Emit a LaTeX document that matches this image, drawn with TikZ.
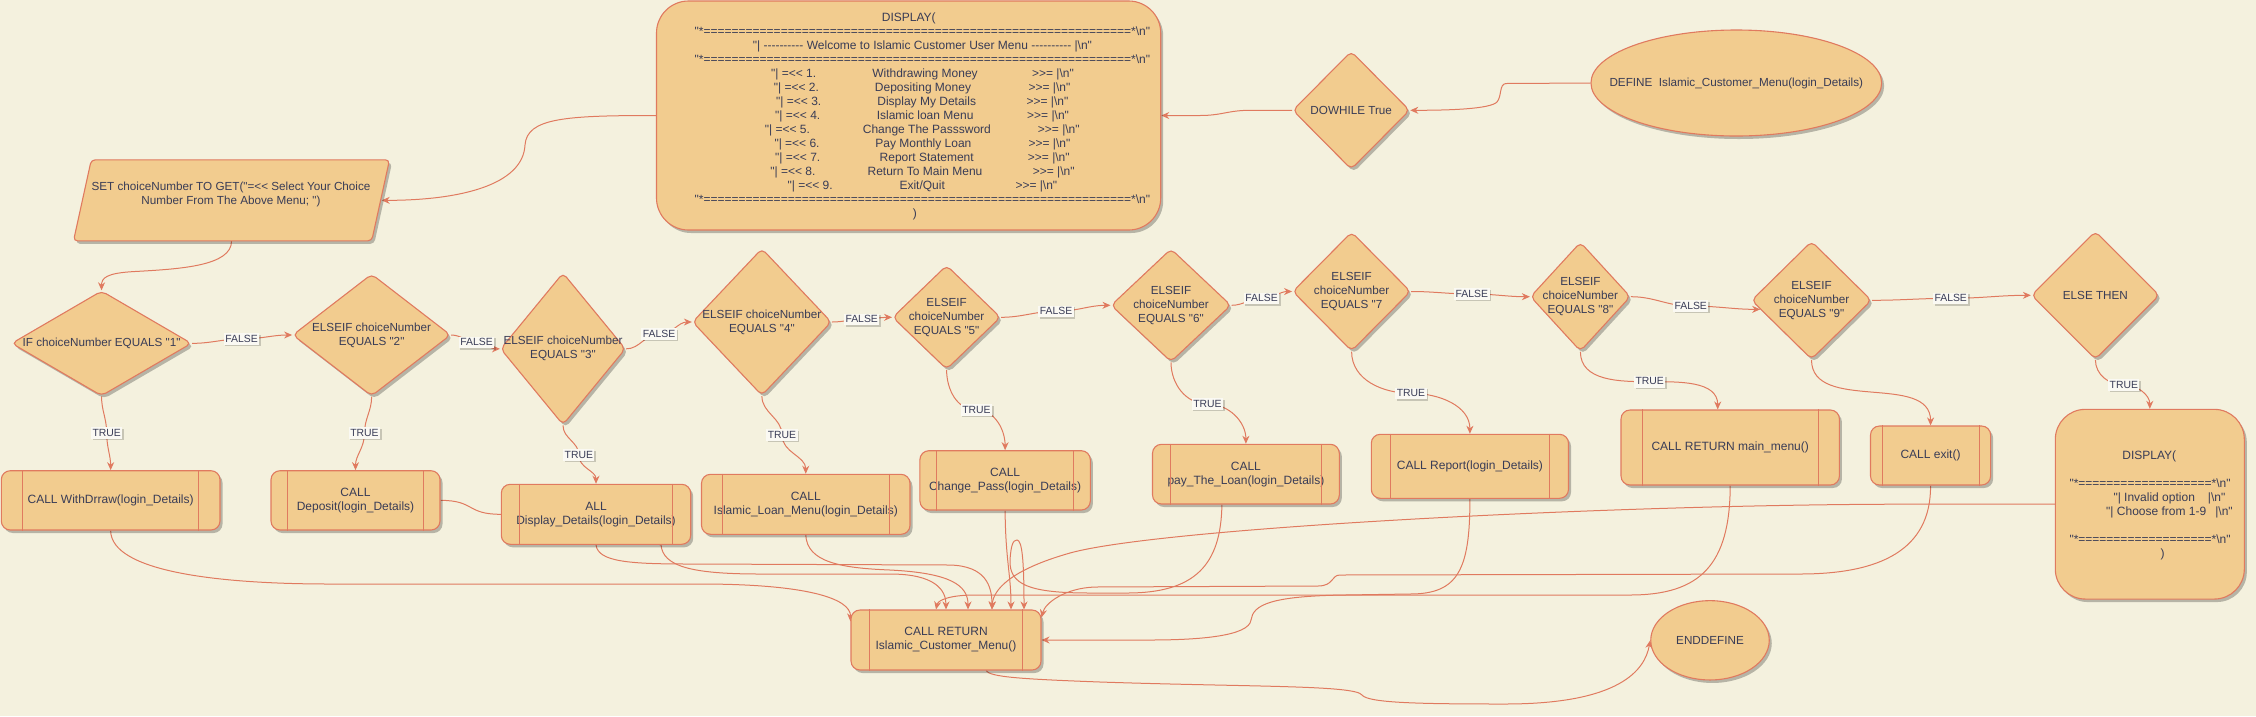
\documentclass[tikz,border=0pt]{standalone}
\usepackage{fontspec}
\setmainfont{Liberation Sans}[Ligatures=TeXOff]
\usetikzlibrary{shapes.geometric,arrows.meta,shadows,calc}
\definecolor{canvasc}{HTML}{F4F1DE}
\definecolor{fillc}{HTML}{F2CC8F}
\definecolor{strokec}{HTML}{E07A5F}
\definecolor{txtc}{HTML}{393C56}
\definecolor{labbg}{HTML}{FAF9F3}
\pgfdeclarelayer{canvaslayer}
\pgfdeclarelayer{edgelayer}
\pgfsetlayers{canvaslayer,edgelayer,main}
\newcommand\mybn{\textbackslash n}
\newcommand\myeq[1]{\foreach\myi in {1,...,#1}{=}}
\newcommand\bigfs{\fontsize{12}{14}\selectfont}
\newcommand\diafs{\fontsize{11.7}{14}\selectfont}
\newcommand\labfs{\fontsize{10.4}{12}\selectfont}
\begin{document}
\begin{tikzpicture}[x=1pt,y=-1pt,
 every node/.append style={text=txtc, font=\bigfs},
 shp/.style={draw=strokec, fill=fillc, line width=1.1pt, drop shadow={shadow xshift=2.5pt, shadow yshift=-3pt, opacity=0.25, fill=black}},
 dia/.style={shp, diamond, rounded corners=5pt, inner sep=0pt},
 proc/.style={shp, rectangle, rounded corners=9pt, align=center, inner sep=2pt},
 ell/.style={shp, ellipse, inner sep=0pt},
 conn/.style={draw=strokec, line width=1pt},
 conna/.style={conn, -{Stealth[length=8pt,width=7pt]}},
 lab/.style={fill=labbg, font=\labfs, text height=7.6pt, text depth=1.4pt, inner xsep=1.5pt, inner ysep=1.3pt, drop shadow={shadow xshift=1.5pt, shadow yshift=-1.5pt, opacity=0.18, fill=black}},
 tl/.style={anchor=base, inner sep=0pt},
 dl/.style={font=\diafs, align=center}
]
\begin{pgfonlayer}{canvaslayer}
\fill[canvasc] (0,0) rectangle (2256,716);
\end{pgfonlayer}
\useasboundingbox (0,0) rectangle (2256,716);

% ---------- top row ----------
\node[ell, minimum width=290.7pt, minimum height=106pt, label={[dl]center:{DEFINE\ \ Islamic\_Customer\_Menu(login\_Details)}}] (def) at (1736.3,83) {};
\node[dia, minimum width=117pt, minimum height=118pt, label={[dl]center:{DOWHILE True}}] (dw) at (1351.2,110.3) {};
\node[shp, rectangle, rounded corners=32pt, minimum width=504.2pt, minimum height=229pt] (dsp) at (908.6,115.5) {};

\node[tl] (dt0) at (908.8,21.5) {DISPLAY(};
\node[tl] (dt1) at (922.4,35.5) {"*\myeq{61}*\mybn"};
\node[tl] (dt2) at (922.4,49.5) {"| ---------- Welcome to Islamic Customer User Menu ---------- |\mybn"};
\node[tl] (dt3) at (922.4,63.5) {"*\myeq{61}*\mybn"};
\foreach \mi/\mt/\ma/\mb/\mc [count=\k from 0] in {
 1/{Withdrawing Money}/770.9/925.0/1031.9,
 2/{Depositing Money}/773.6/923.0/1028.4,
 3/{Display My Details}/776.0/926.7/1026.4,
 4/{Islamic loan Menu}/775.0/925.1/1027.0,
 5/{Change The Passsword}/764.7/926.9/1037.7,
 6/{Pay Monthly Loan}/774.3/923.4/1028.4,
 7/{Report Statement}/775.0/926.7/1027.7,
 8/{Return To Main Menu}/770.2/925.0/1032.6,
 9/{Exit/Quit}/787.4/922.2/1015.3}{
 \pgfmathsetmacro\yy{77.5+14*\k}
 \node[tl, anchor=base west] (ml\mi) at (\ma,\yy) {"| =<< \mi.};
 \node[tl] (mc\mi) at (\mb,\yy) {\mt};
 \node[tl, anchor=base west] (mr\mi) at (\mc,\yy) {>>= |\mybn"};
}
\node[tl] (dt13) at (922.4,203.5) {"*\myeq{61}*\mybn"};
\node[tl] (dt14) at (914.8,217.5) {)};

% ---------- SET ----------
\node[minimum width=315.6pt, minimum height=80.7pt, inner sep=0pt] (setb) at (231.5,200.35) {};
\filldraw[shp, rounded corners=4pt] ([xshift=17.8pt]setb.north west) -- (setb.north east) -- ([xshift=-17.8pt]setb.south east) -- (setb.south west) -- cycle;
\node[dl] (sett) at (231,194) {SET choiceNumber TO GET("=<< Select Your Choice\\Number From The Above Menu; ")};

% ---------- decisions ----------
\node[dia, minimum width=180pt, minimum height=105pt, label={[dl]center:{IF choiceNumber EQUALS "1"}}] (c1) at (101.55,343.35) {};
\node[dia, minimum width=158pt, minimum height=122pt, label={[dl]center:{ELSEIF choiceNumber\\EQUALS "2"}}] (c2) at (371.65,335) {};
\node[dia, minimum width=125pt, minimum height=152pt, label={[dl]center:{ELSEIF choiceNumber\\EQUALS "3"}}] (c3) at (563,348.85) {};
\node[dia, minimum width=139pt, minimum height=147pt, label={[dl]center:{ELSEIF choiceNumber\\EQUALS "4"}}] (c4) at (761.9,322) {};
\node[dia, minimum width=108pt, minimum height=104pt, label={[dl]center:{ELSEIF\\choiceNumber\\EQUALS "5"}}] (c5) at (946.6,317.3) {};
\node[dia, minimum width=120pt, minimum height=113pt, label={[dl]center:{ELSEIF\\choiceNumber\\EQUALS "6"}}] (c6) at (1171,305.3) {};
\node[dia, minimum width=118pt, minimum height=119pt, label={[dl]center:{ELSEIF\\choiceNumber\\EQUALS "7}}] (c7) at (1351.6,291.5) {};
\node[dia, minimum width=100pt, minimum height=109pt, label={[dl]center:{ELSEIF\\choiceNumber\\EQUALS "8"}}] (c8) at (1580.4,296.7) {};
\node[dia, minimum width=120pt, minimum height=118pt, label={[dl]center:{ELSEIF\\choiceNumber\\EQUALS "9"}}] (c9) at (1811.5,300.3) {};
\node[dia, minimum width=128pt, minimum height=128pt, label={[dl]center:{ELSE THEN}}] (cels) at (2095.4,295.3) {};

% ---------- process boxes ----------
\node[proc, minimum width=218.7pt, minimum height=59.3pt] (wd) at (110.65,500.35) {CALL WithDrraw(login\_Details)};
\node[proc, minimum width=169pt, minimum height=59.3pt] (dep) at (355.5,500.35) {CALL\\Deposit(login\_Details)};
\node[proc, minimum width=189.4pt, minimum height=60pt] (dsd) at (596,514.3) {ALL\\Display\_Details(login\_Details)};
\node[proc, minimum width=208.5pt, minimum height=60pt] (loan) at (805.75,504.3) {CALL\\Islamic\_Loan\_Menu(login\_Details)};
\node[proc, minimum width=170.4pt, minimum height=59.3pt] (chg) at (1005.1,480.35) {CALL\\Change\_Pass(login\_Details)};
\node[proc, minimum width=186.8pt, minimum height=59.7pt] (pay) at (1245.9,474.15) {CALL\\pay\_The\_Loan(login\_Details)};
\node[proc, minimum width=197.2pt, minimum height=64pt] (rep) at (1469.9,466.3) {CALL Report(login\_Details)};
\node[proc, minimum width=218.4pt, minimum height=75pt] (mmb) at (1730.2,447.5) {CALL RETURN main\_menu()};
\node[proc, minimum width=120.1pt, minimum height=59pt] (ex) at (1930.55,455.5) {CALL exit()};
\node[proc, minimum width=190pt, minimum height=60pt] (cr) at (946,640) {CALL RETURN\\Islamic\_Customer\_Menu()};
\foreach \b in {wd,dep,dsd,loan,chg,pay,rep,mmb,ex,cr}{
 \draw[draw=strokec, line width=0.8pt] ($(\b.north west)!0.1!(\b.north east)$) -- ($(\b.south west)!0.1!(\b.south east)$)
  ($(\b.north west)!0.9!(\b.north east)$) -- ($(\b.south west)!0.9!(\b.south east)$);
}

% ---------- DISPLAY invalid ----------
\node[shp, rectangle, rounded corners=30pt, minimum width=189pt, minimum height=189.7pt] (dsp2) at (2149.8,504.2) {};
\node[tl] (e0) at (2149.3,459.9) {DISPLAY(};
\node[tl] (e1) at (2150,487.9) {"*\myeq{19}*\mybn"};
\node[tl, anchor=base west] (e2) at (2113.3,501.9) {"| Invalid option\hspace{13pt}|\mybn"};
\node[tl, anchor=base west] (e3) at (2106,515.9) {"| Choose from 1-9\hspace{9pt}|\mybn"};
\node[tl] (e4) at (2150,543.9) {"*\myeq{19}*\mybn"};
\node[tl] (e5) at (2162.7,557.9) {)};

\node[ell, minimum width=118.5pt, minimum height=79.3pt, label={[dl]center:{ENDDEFINE}}] (ed) at (1710,640.3) {};

% ---------- edge labels ----------
\node[lab] (lf1) at (241.5,339) {FALSE};
\node[lab] (lf2) at (476.5,342.3) {FALSE};
\node[lab] (lf3) at (659,334) {FALSE};
\node[lab] (lf4) at (861.7,319.3) {FALSE};
\node[lab] (lf5) at (1056,311.3) {FALSE};
\node[lab] (lf6) at (1261.6,298.3) {FALSE};
\node[lab] (lf7) at (1471.8,294) {FALSE};
\node[lab] (lf8) at (1690.7,306) {FALSE};
\node[lab] (lf9) at (1950.7,298.3) {FALSE};
\node[lab] (lt1) at (106.7,433) {TRUE};
\node[lab] (lt2) at (364.5,433) {TRUE};
\node[lab] (lt3) at (578.8,455) {TRUE};
\node[lab] (lt4) at (782,435) {TRUE};
\node[lab] (lt5) at (976.4,410) {TRUE};
\node[lab] (lt6) at (1207.5,404) {TRUE};
\node[lab] (lt7) at (1411,393.3) {TRUE};
\node[lab] (lt8) at (1649.7,381.7) {TRUE};
\node[lab] (lte) at (2123.8,385) {TRUE};

% ---------- connectors ----------
\begin{pgfonlayer}{edgelayer}
\draw[conna] (def.west) -- (1506,83.5) .. controls (1499,84) and (1502,96) .. (1497,102) .. controls (1490,109) and (1450,110.3) .. (dw.east);
\draw[conna] (dw.west) -- (1250,110.3) .. controls (1228,110.3) and (1222,115.5) .. (1200,115.5) -- (dsp.east);
\draw[conna] (dsp.west) .. controls (565,115.5) and (527,118) .. (525,145) .. controls (523,185) and (460,200.35) .. ([xshift=-7.8pt]setb.east);
\draw[conna] (setb.south) .. controls (232,266) and (180,269) .. (135,271.5) .. controls (106,273) and (101.55,278) .. (c1.north);

\draw[conna] (c1.east) to[out=0,in=180] (lf1.center) to[out=0,in=180] (c2.west);
\draw[conna] (c2.east) to[out=0,in=180] (lf2.center) to[out=0,in=180] (c3.west);
\draw[conna] (c3.east) to[out=0,in=180] (lf3.center) to[out=0,in=180] (c4.west);
\draw[conna] (c4.east) to[out=0,in=180] (lf4.center) to[out=0,in=180] (c5.west);
\draw[conna] (c5.east) to[out=0,in=180] (lf5.center) to[out=0,in=180] (c6.west);
\draw[conna] (c6.east) to[out=0,in=180] (lf6.center) to[out=0,in=180] (c7.west);
\draw[conna] (c7.east) to[out=0,in=180] (lf7.center) to[out=0,in=180] (c8.west);
\draw[conna] (c8.east) to[out=0,in=180] (lf8.center) to[out=0,in=180] (c9.190);
\draw[conna] (c9.east) to[out=0,in=180] (lf9.center) to[out=0,in=180] (cels.west);

\draw[conna] (c1.south) to[out=-90,in=90] (lt1.center) to[out=-90,in=90] (wd.north);
\draw[conna] (c2.south) to[out=-90,in=90] (lt2.center) to[out=-90,in=90] (dep.north);
\draw[conna] (c3.south) to[out=-90,in=90] (lt3.center) to[out=-90,in=90] (dsd.north);
\draw[conna] (c4.south) to[out=-90,in=90] (lt4.center) to[out=-90,in=90] (loan.north);
\draw[conna] (c5.south) to[out=-90,in=180] (lt5.center) to[out=0,in=90] (chg.north);
\draw[conna] (c6.south) to[out=-90,in=180] (lt6.center) to[out=0,in=90] (pay.north);
\draw[conna] (c7.south) to[out=-90,in=180] (lt7.center) to[out=0,in=90] (rep.north);
\draw[conna] (c8.south) to[out=-90,in=180] (lt8.center) to[out=0,in=90] ([xshift=-12.5pt]mmb.north);
\draw[conna] (c9.south) to[out=-90,in=90] (ex.north);
\draw[conna] (cels.south) to[out=-90,in=180] (lte.center) to[out=0,in=90] (dsp2.north);

\draw[conna] (wd.south) .. controls (111,572) and (220,584) .. (330,584) -- (700,584) .. controls (805,584) and (851,598) .. ([yshift=-12pt]cr.north west);
\draw[conna] (dep.east) .. controls (475,500.35) and (466,514.3) .. (dsd.west) -- ([xshift=65pt]dsd.south) .. controls (663,566) and (690,574) .. (760,574) -- (890,574) .. controls (935,574) and (946,590) .. (cr.north);
\draw[conna] (dsd.south) .. controls (598,562) and (630,564) .. (690,564) -- (950,565) .. controls (985,566) and (992,585) .. ([xshift=46pt]cr.north);
\draw[conna] (loan.south) .. controls (807,562) and (840,568) .. (890,570) .. controls (950,573) and (968,585) .. ([xshift=22pt]cr.north);
\draw[conna] (chg.south) .. controls (1005.5,560) and (1011,575) .. ([xshift=65pt]cr.north);
\draw[conna] ([xshift=-24pt]pay.south) .. controls (1221,565) and (1195,593) .. (1127,593) -- (1090,593) .. controls (1030,593) and (1009,585) .. (1010,560) .. controls (1011,545) and (1013,540) .. (1017,540) .. controls (1022,540) and (1024,560) .. ([xshift=78pt]cr.north);
\draw[conna] (rep.south) .. controls (1470,570) and (1458,594) .. (1410,594) -- (1345,595) .. controls (1270,596) and (1253,605) .. (1251,620) .. controls (1249,636) and (1200,640) .. (1150,640) -- (cr.east);
\draw[conna] (mmb.south) .. controls (1730,565) and (1700,595) .. (1630,595) -- (975,595) .. controls (950,595) and (938,600) .. ([xshift=-10pt]cr.north);
\draw[conna] (ex.south) .. controls (1931,550) and (1880,574) .. (1800,574) -- (1340,575) .. controls (1331,575) and (1334,586) .. (1318,586) -- (1095,587) .. controls (1065,588) and (1045,603) .. ([yshift=-8pt]cr.north east);
\draw[conna] (dsp2.west) -- (1895,504.2) .. controls (1600,505) and (1160,528) .. (1070,553) .. controls (1010,570) and (993,590) .. ([xshift=46pt]cr.north);
\draw[conna] ([xshift=40pt]cr.south) .. controls (990,677) and (1020,679) .. (1100,682) .. controls (1250,687) and (1355,685) .. (1362,695) .. controls (1368,703) and (1420,704) .. (1505,704) .. controls (1620,704) and (1645,670) .. (ed.west);
\end{pgfonlayer}
\end{tikzpicture}
\end{document}
